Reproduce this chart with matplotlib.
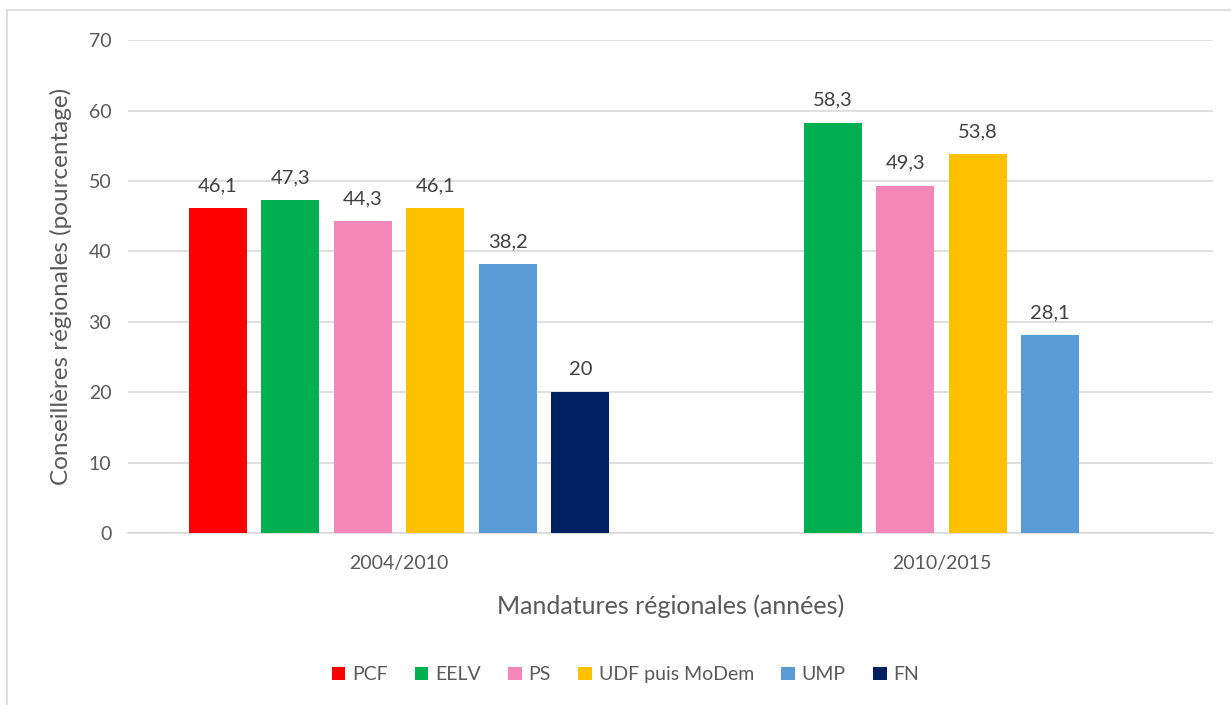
import numpy as np
import matplotlib.pyplot as plt
from matplotlib.lines import Line2D

plt.rcParams['font.family'] = ['Lato', 'DejaVu Sans']

periods = ['2004/2010', '2010/2015']
parties = ['PCF', 'EELV', 'PS', 'UDF puis MoDem', 'UMP', 'FN']
colors = ['#FF0000', '#00B050', '#F388B8', '#FFC000', '#5B9BD5', '#002060']

# percentage of women among regional councillors, nan = no seats / no data
pcf = [46.1, np.nan]
eelv = [47.3, 58.3]
ps = [44.3, 49.3]
udf = [46.1, 53.8]
ump = [38.2, 28.1]
fn = [20, np.nan]
values = [pcf, eelv, ps, udf, ump, fn]

fig = plt.figure(figsize=(12.31, 7.05), dpi=100)
ax = fig.add_axes([0.104, 0.244, 0.881, 0.699])

x = np.arange(len(periods))
slot = 0.1336
width = 0.107

for i, (party, vals, col) in enumerate(zip(parties, values, colors)):
    pos = x + (i - 2.5) * slot
    bars = ax.bar(pos, vals, width, color=col, label=party, zorder=3)
    for p, v in zip(pos, vals):
        if np.isnan(v):
            continue
        txt = ('%g' % v).replace('.', ',')
        ax.text(p, v + 2.0, txt, ha='center', va='bottom', fontsize=14.5, color='#404040')

ax.set_xlim(-0.5, 1.5)
ax.set_ylim(0, 70)
ax.set_yticks(range(0, 71, 10))
ax.set_xticks(x)
ax.set_xticklabels(periods)
ax.yaxis.grid(True, color='#D9D9D9', linewidth=1.2, zorder=0)
ax.set_axisbelow(True)
for s in ['top', 'right', 'left']:
    ax.spines[s].set_visible(False)
ax.spines['bottom'].set_color('#D9D9D9')
ax.spines['bottom'].set_linewidth(1.2)
ax.tick_params(length=0, labelsize=14, colors='#595959', pad=12)
ax.tick_params(axis='x', pad=16)

ax.set_xlabel('Mandatures régionales (années)', fontsize=18, color='#595959', labelpad=16)
ax.set_ylabel('Conseillères régionales (pourcentage)', fontsize=17.5, color='#595959', labelpad=12)

leg = fig.legend(loc='center', bbox_to_anchor=(0.508, 0.043), ncol=6, frameon=False,
                 fontsize=14, handlelength=0.7, handleheight=0.7, columnspacing=1.4,
                 handletextpad=0.35)
for t in leg.get_texts():
    t.set_color('#595959')

# chart area border (left and top edges visible)
fig.add_artist(Line2D([7 / 1231, 7 / 1231], [0, 1 - 10 / 705], transform=fig.transFigure,
                      color='#D9D9D9', linewidth=1.2))
fig.add_artist(Line2D([7 / 1231, 1], [1 - 10 / 705, 1 - 10 / 705], transform=fig.transFigure,
                      color='#D9D9D9', linewidth=1.2))

fig.savefig('out.png', dpi=100)
